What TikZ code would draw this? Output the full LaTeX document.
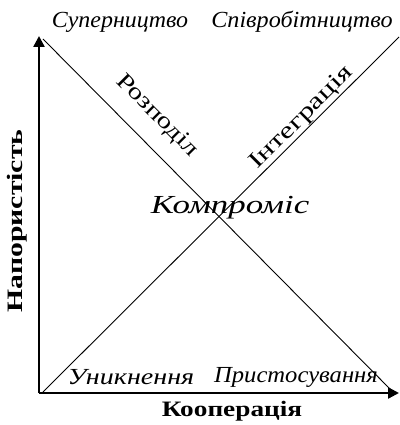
\documentclass[tikz,border=0pt]{standalone}
\usepackage{fontspec}
\setmainfont{Liberation Serif}
\usetikzlibrary{arrows.meta}
\newcommand{\wide}[2]{\scalebox{#1}[1]{#2}}
\begin{document}
\begin{tikzpicture}[x=1pt,y=-1pt,
  axis/.style={line width=2.4pt,-{Triangle[length=11pt,width=11pt]}},
  diag/.style={line width=0.9pt},
  corner/.style={font=\fontsize{23}{26}\selectfont\itshape,inner sep=0pt},
  mid/.style={font=\fontsize{26}{30}\selectfont\itshape,inner sep=0pt},
  strat/.style={font=\fontsize{23}{26}\selectfont,inner sep=0pt},
  axlabel/.style={font=\fontsize{22}{26}\selectfont\bfseries,inner sep=0pt}]
\useasboundingbox (0,0) rectangle (399,425);
\coordinate (O) at (39,393);
\coordinate (Ytop) at (39,36);
\coordinate (Xend) at (399,393);
\coordinate (A1) at (43,39);
\coordinate (A2) at (394,393);
\coordinate (B1) at (43,392);
\coordinate (B2) at (399,37);
\draw[axis] (O) -- (Ytop);
\draw[axis] (O) -- (Xend);
\draw[diag] (A1) -- (A2);
\draw[diag] (B1) -- (B2);
\node[corner] (sup) at (120,22) {\wide{1.04}{Суперництво}};
\node[corner] (spiv) at (302,22) {\wide{1.05}{Співробітництво}};
\node[corner] (unyk) at (131,377) {\wide{1.22}{Уникнення}};
\node[corner] (prys) at (296,377) {\wide{1.07}{Пристосування}};
\node[mid] (komp) at (230,208) {\wide{1.34}{Компроміс}};
\node[strat,rotate=-45] (rozp) at (157,116) {\wide{1.25}{Розподіл}};
\node[strat,rotate=45] (integ) at (302,118) {\wide{1.35}{Інтеграція}};
\node[axlabel] (koop) at (232,411) {\wide{1.24}{Кооперація}};
\node[axlabel,rotate=90] (napor) at (17,221) {\wide{1.35}{Напористість}};
\end{tikzpicture}
\end{document}
